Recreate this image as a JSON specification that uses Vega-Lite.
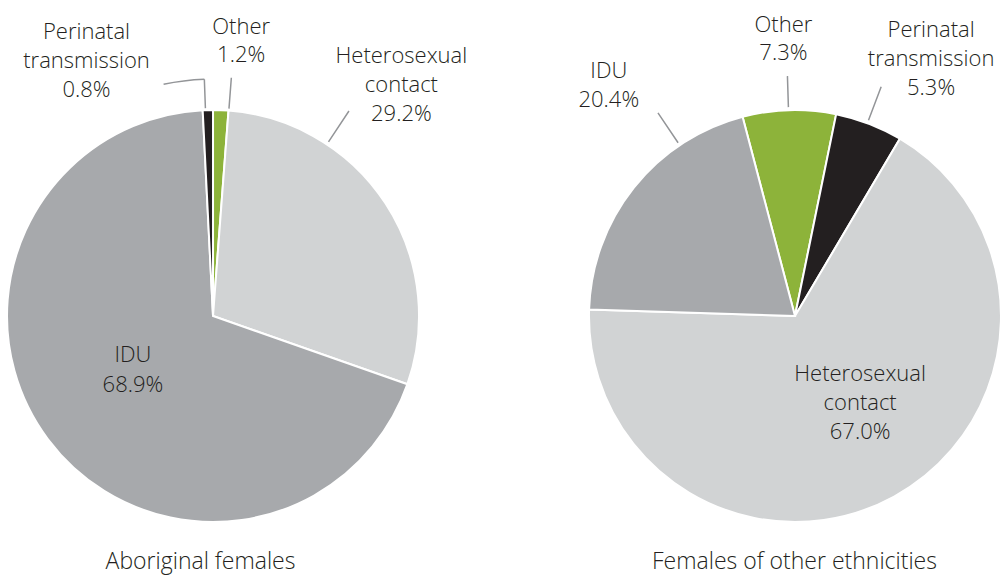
{
  "$schema": "https://vega.github.io/schema/vega-lite/v6.json",
  "width": 994,
  "height": 518,
  "autosize": {"type": "none"},
  "padding": {"left": 7, "top": 57, "right": 0, "bottom": 0},
  "background": "white",
  "config": {"view": {"stroke": null}},
  "data": {
    "values": [
      {"group": "Aboriginal females", "category": "Other", "order": 1, "pct": 1.2},
      {"group": "Aboriginal females", "category": "Heterosexual contact", "order": 2, "pct": 29.2},
      {"group": "Aboriginal females", "category": "IDU", "order": 3, "pct": 68.9},
      {"group": "Aboriginal females", "category": "Perinatal transmission", "order": 4, "pct": 0.8},
      {"group": "Females of other ethnicities", "category": "Other", "order": 1, "pct": 7.3},
      {"group": "Females of other ethnicities", "category": "Perinatal transmission", "order": 2, "pct": 5.3},
      {"group": "Females of other ethnicities", "category": "Heterosexual contact", "order": 3, "pct": 67.0},
      {"group": "Females of other ethnicities", "category": "IDU", "order": 4, "pct": 20.4}
    ]
  },
  "transform": [
    {"stack": "pct", "groupby": ["group"], "sort": [{"field": "order"}], "offset": "normalize", "as": ["t0", "t1"]},
    {"calculate": "(datum.t0 + datum.t1) / 2", "as": "tmid"},
    {"calculate": "datum.category + ' ' + format(datum.pct, '.1f') + '%'", "as": "label"}
  ],
  "encoding": {
    "x": {
      "field": "group",
      "type": "nominal",
      "scale": {"type": "point", "domain": ["Aboriginal females", "Females of other ethnicities"], "padding": 0.354},
      "axis": {
        "title": null, "orient": "bottom", "offset": -7, "domain": false, "ticks": false, "tickSize": 0,
        "labelPadding": 0, "labelBaseline": "alphabetic", "labelFont": "Open Sans", "labelFontWeight": 300,
        "labelFontSize": 23, "labelColor": "#231f20", "labelAngle": 0, "labelLimit": 0,
        "labelOffset": {"condition": {"test": "datum.value === 'Aboriginal females'", "value": -13}, "value": -1}
      }
    }
  },
  "layer": [
    {
      "transform": [{"filter": "datum.group === 'Aboriginal females'"}],
      "layer": [
        {
          "mark": {"type": "arc", "radius": 206, "stroke": "white", "strokeWidth": 2},
          "encoding": {
            "theta": {"field": "t0", "type": "quantitative", "scale": {"domain": [0, 1], "range": [0, 6.2832]}},
            "theta2": {"field": "t1"},
            "color": {"field": "category", "type": "nominal", "legend": null,
              "scale": {"domain": ["Other", "Heterosexual contact", "IDU", "Perinatal transmission"], "range": ["#8db33a", "#d1d3d4", "#a7a9ac", "#231f20"]}}
          }
        },
        {
          "transform": [{"filter": "datum.category === 'Perinatal transmission'"}],
          "mark": {"type": "arc", "radius": 237, "radius2": 208, "fill": "transparent", "stroke": "#939598", "strokeWidth": 1.5, "thetaOffset": -0.0115, "theta2Offset": -0.0115},
          "encoding": {
            "theta": {"field": "tmid", "type": "quantitative", "scale": {"domain": [0, 1], "range": [0, 6.2832]}},
            "theta2": {"field": "tmid"}
          }
        },
        {
          "transform": [{"filter": "datum.category === 'Perinatal transmission'"}],
          "mark": {"type": "arc", "radius": 237, "radius2": 237, "fill": "transparent", "stroke": "#939598", "strokeWidth": 1.5, "thetaOffset": -0.0115, "theta2Offset": -0.185},
          "encoding": {
            "theta": {"field": "tmid", "type": "quantitative", "scale": {"domain": [0, 1], "range": [0, 6.2832]}},
            "theta2": {"field": "tmid"}
          }
        },
        {
          "transform": [{"filter": "datum.category === 'Other'"}],
          "mark": {"type": "arc", "radius": 239, "radius2": 208, "fill": "transparent", "stroke": "#939598", "strokeWidth": 1.5, "thetaOffset": 0.0391, "theta2Offset": 0.0391},
          "encoding": {
            "theta": {"field": "tmid", "type": "quantitative", "scale": {"domain": [0, 1], "range": [0, 6.2832]}},
            "theta2": {"field": "tmid"}
          }
        },
        {
          "transform": [{"filter": "datum.category === 'Heterosexual contact'"}],
          "mark": {"type": "arc", "radius": 246, "radius2": 209, "fill": "transparent", "stroke": "#939598", "strokeWidth": 1.5, "thetaOffset": -0.4063, "theta2Offset": -0.4063},
          "encoding": {
            "theta": {"field": "tmid", "type": "quantitative", "scale": {"domain": [0, 1], "range": [0, 6.2832]}},
            "theta2": {"field": "tmid"}
          }
        },
        {
          "transform": [{"filter": "datum.category === 'Perinatal transmission'"}],
          "mark": {"type": "text", "radius": 260, "dx": -120, "dy": -17, "align": "center", "baseline": "alphabetic", "lineBreak": " ", "lineHeight": 29, "font": "Open Sans", "fontWeight": 300, "fontSize": 22, "color": "#231f20"},
          "encoding": {
            "theta": {"field": "tmid", "type": "quantitative", "scale": {"domain": [0, 1], "range": [0, 6.2832]}},
            "text": {"field": "label"}
          }
        },
        {
          "transform": [{"filter": "datum.category === 'Other'"}],
          "mark": {"type": "text", "radius": 270, "dx": 18, "dy": -12, "align": "center", "baseline": "alphabetic", "lineBreak": " ", "lineHeight": 28, "font": "Open Sans", "fontWeight": 300, "fontSize": 22, "color": "#231f20"},
          "encoding": {
            "theta": {"field": "tmid", "type": "quantitative", "scale": {"domain": [0, 1], "range": [0, 6.2832]}},
            "text": {"field": "label"}
          }
        },
        {
          "transform": [{"filter": "datum.category === 'Heterosexual contact'"}],
          "mark": {"type": "text", "radius": 280, "dx": -46, "dy": -100, "align": "center", "baseline": "alphabetic", "lineBreak": " ", "lineHeight": 29, "font": "Open Sans", "fontWeight": 300, "fontSize": 22, "color": "#231f20"},
          "encoding": {
            "theta": {"field": "tmid", "type": "quantitative", "scale": {"domain": [0, 1], "range": [0, 6.2832]}},
            "text": {"field": "label"}
          }
        },
        {
          "transform": [{"filter": "datum.category === 'IDU'"}],
          "mark": {"type": "text", "radius": 100, "dx": 0, "dy": -14, "align": "center", "baseline": "alphabetic", "lineBreak": " ", "lineHeight": 30, "font": "Open Sans", "fontWeight": 300, "fontSize": 22, "color": "#231f20"},
          "encoding": {
            "theta": {"field": "tmid", "type": "quantitative", "scale": {"domain": [0, 1], "range": [0, 6.2832]}},
            "text": {"field": "label"}
          }
        }
      ]
    },
    {
      "transform": [{"filter": "datum.group === 'Females of other ethnicities'"}],
      "layer": [
        {
          "mark": {"type": "arc", "radius": 206, "stroke": "white", "strokeWidth": 2},
          "encoding": {
            "theta": {"field": "t0", "type": "quantitative", "scale": {"domain": [0, 1], "range": [-0.2573, 6.0259]}},
            "theta2": {"field": "t1"},
            "color": {"field": "category", "type": "nominal", "legend": null,
              "scale": {"domain": ["Other", "Heterosexual contact", "IDU", "Perinatal transmission"], "range": ["#8db33a", "#d1d3d4", "#a7a9ac", "#231f20"]}}
          }
        },
        {
          "transform": [{"filter": "datum.category === 'Other'"}],
          "mark": {"type": "arc", "radius": 240, "radius2": 209, "fill": "transparent", "stroke": "#939598", "strokeWidth": 1.5, "thetaOffset": -0.0035, "theta2Offset": -0.0035},
          "encoding": {
            "theta": {"field": "tmid", "type": "quantitative", "scale": {"domain": [0, 1], "range": [-0.2573, 6.0259]}},
            "theta2": {"field": "tmid"}
          }
        },
        {
          "transform": [{"filter": "datum.category === 'Perinatal transmission'"}],
          "mark": {"type": "arc", "radius": 245, "radius2": 209, "fill": "transparent", "stroke": "#939598", "strokeWidth": 1.5, "thetaOffset": -0.0084, "theta2Offset": -0.0084},
          "encoding": {
            "theta": {"field": "tmid", "type": "quantitative", "scale": {"domain": [0, 1], "range": [-0.2573, 6.0259]}},
            "theta2": {"field": "tmid"}
          }
        },
        {
          "transform": [{"filter": "datum.category === 'IDU'"}],
          "mark": {"type": "arc", "radius": 245, "radius2": 209, "fill": "transparent", "stroke": "#939598", "strokeWidth": 1.5, "thetaOffset": 0.3047, "theta2Offset": 0.3047},
          "encoding": {
            "theta": {"field": "tmid", "type": "quantitative", "scale": {"domain": [0, 1], "range": [-0.2573, 6.0259]}},
            "theta2": {"field": "tmid"}
          }
        },
        {
          "transform": [{"filter": "datum.category === 'Other'"}],
          "mark": {"type": "text", "radius": 270, "dx": -4, "dy": -14, "align": "center", "baseline": "alphabetic", "lineBreak": " ", "lineHeight": 28, "font": "Open Sans", "fontWeight": 300, "fontSize": 22, "color": "#231f20"},
          "encoding": {
            "theta": {"field": "tmid", "type": "quantitative", "scale": {"domain": [0, 1], "range": [-0.2573, 6.0259]}},
            "text": {"field": "label"}
          }
        },
        {
          "transform": [{"filter": "datum.category === 'Perinatal transmission'"}],
          "mark": {"type": "text", "radius": 270, "dx": 39, "dy": -27, "align": "center", "baseline": "alphabetic", "lineBreak": " ", "lineHeight": 29, "font": "Open Sans", "fontWeight": 300, "fontSize": 22, "color": "#231f20"},
          "encoding": {
            "theta": {"field": "tmid", "type": "quantitative", "scale": {"domain": [0, 1], "range": [-0.2573, 6.0259]}},
            "text": {"field": "label"}
          }
        },
        {
          "transform": [{"filter": "datum.category === 'IDU'"}],
          "mark": {"type": "text", "radius": 270, "dx": 25, "dy": -70, "align": "center", "baseline": "alphabetic", "lineBreak": " ", "lineHeight": 29, "font": "Open Sans", "fontWeight": 300, "fontSize": 22, "color": "#231f20"},
          "encoding": {
            "theta": {"field": "tmid", "type": "quantitative", "scale": {"domain": [0, 1], "range": [-0.2573, 6.0259]}},
            "text": {"field": "label"}
          }
        },
        {
          "transform": [{"filter": "datum.category === 'Heterosexual contact'"}],
          "mark": {"type": "text", "radius": 100, "dx": 17, "dy": -23, "align": "center", "baseline": "alphabetic", "lineBreak": " ", "lineHeight": 29, "font": "Open Sans", "fontWeight": 300, "fontSize": 22, "color": "#231f20"},
          "encoding": {
            "theta": {"field": "tmid", "type": "quantitative", "scale": {"domain": [0, 1], "range": [-0.2573, 6.0259]}},
            "text": {"field": "label"}
          }
        }
      ]
    }
  ],
  "resolve": {"scale": {"theta": "independent"}}
}
